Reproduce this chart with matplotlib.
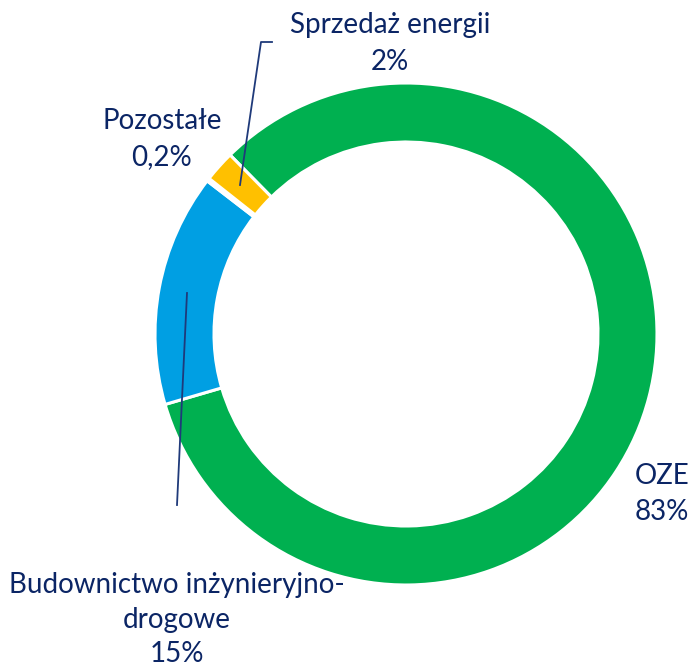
import matplotlib
matplotlib.use("Agg")
import matplotlib.pyplot as plt

# Data
categories = ["OZE", "Budownictwo inżynieryjno-\ndrogowe", "Pozostałe", "Sprzedaż energii"]
values = [83, 15, 0.2, 2]
value_labels = ["83%", "15%", "0,2%", "2%"]
colors = ["#00B050", "#009FE3", "#FFFFFF", "#FFC000"]

W, H = 692, 666
fig = plt.figure(figsize=(W / 100, H / 100), dpi=100)
ax = fig.add_axes([0, 0, 1, 1])
ax.set_xlim(0, W)
ax.set_ylim(0, H)
ax.axis("off")

cx, cy = 406, H - 334
R = 251
ax.pie(values, colors=colors, startangle=134.5, counterclock=False,
       radius=R, center=(cx, cy),
       wedgeprops=dict(width=59, edgecolor="white", linewidth=2.2))
ax.set_xlim(0, W)
ax.set_ylim(0, H)
ax.set_aspect("equal")

txt = "#0B2565"
font = dict(family="Lato", fontsize=20, color=txt, ha="center", va="center")

def T(x, y, s):
    ax.text(x, H - y, s, **font)

T(390, 25, categories[3]); T(390, 62, value_labels[3])
T(162, 121, categories[2]); T(162, 157, value_labels[2])
T(662, 476, categories[0]); T(662, 512, value_labels[0])
T(177, 585, "Budownictwo inżynieryjno-"); T(177, 620, "drogowe"); T(177, 654, value_labels[1])

lc = "#1F3A7A"
ax.plot([240, 261, 272], [H - 185, H - 42, H - 42], color=lc, lw=1.3)
ax.plot([187, 177], [H - 293, H - 505], color=lc, lw=1.3)

fig.savefig("out.png", dpi=100)
